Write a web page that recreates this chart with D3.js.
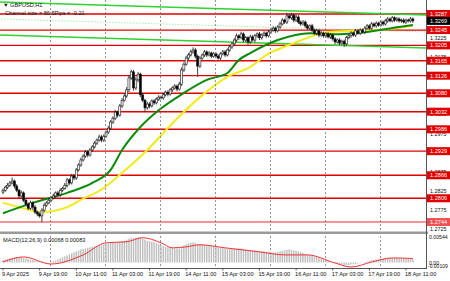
<!DOCTYPE html>
<html>
<head>
<meta charset="utf-8">
<script src="https://cdn.jsdelivr.net/npm/d3@7"></script>
<style>
  body { margin: 0; background: #fff; }
  svg { display: block; }
  text { font-family: "Liberation Sans", Arial, sans-serif; }
</style>
</head>
<body>
<svg width="450" height="281"></svg>
<script>
// H1 closes, 9 Apr 03:00 -> 18 Apr 14:00
var firstOpen = 1.2822;
var closes = [
  1.2827,1.2835,1.2840,1.2846,1.2851,1.2838,1.2827,1.2812,1.2820,1.2801,
  1.2791,1.2780,1.2794,1.2783,1.2770,1.2765,1.2760,1.2775,1.2788,1.2794,
  1.2801,1.2807,1.2812,1.2820,1.2815,1.2827,1.2832,1.2840,1.2854,1.2846,
  1.2864,1.2859,1.2880,1.2893,1.2906,1.2916,1.2927,1.2919,1.2932,1.2940,
  1.2950,1.2958,1.2966,1.2958,1.2968,1.2979,1.2989,1.3005,1.3015,1.3031,
  1.3023,1.3047,1.3062,1.3073,1.3089,1.3120,1.3136,1.3094,1.3115,1.3130,
  1.3076,1.3062,1.3042,1.3052,1.3047,1.3060,1.3055,1.3065,1.3070,1.3068,
  1.3076,1.3083,1.3078,1.3089,1.3094,1.3099,1.3091,1.3104,1.3141,1.3156,
  1.3172,1.3180,1.3188,1.3193,1.3177,1.3151,1.3172,1.3180,1.3188,1.3180,
  1.3185,1.3177,1.3183,1.3177,1.3172,1.3183,1.3188,1.3180,1.3193,1.3201,
  1.3209,1.3219,1.3230,1.3225,1.3235,1.3219,1.3225,1.3214,1.3227,1.3219,
  1.3230,1.3235,1.3225,1.3232,1.3237,1.3230,1.3240,1.3245,1.3250,1.3243,
  1.3253,1.3261,1.3271,1.3266,1.3282,1.3277,1.3284,1.3271,1.3279,1.3266,
  1.3261,1.3266,1.3256,1.3250,1.3256,1.3245,1.3237,1.3243,1.3232,1.3237,
  1.3230,1.3235,1.3227,1.3232,1.3222,1.3214,1.3219,1.3211,1.3216,1.3209,
  1.3225,1.3230,1.3237,1.3232,1.3243,1.3237,1.3245,1.3240,1.3250,1.3256,
  1.3250,1.3261,1.3256,1.3263,1.3258,1.3266,1.3261,1.3269,1.3274,1.3269,
  1.3277,1.3271,1.3274,1.3269,1.3271,1.3266,1.3271,1.3269,1.3274,1.3269
];
// wick lengths in pips above / below the body
var wickUp = [
  5,4,6,5,9,4,5,4,6,4, 5,4,6,4,5,4,4,5,6,4, 5,4,6,4,5,5,4,6,5,4,
  6,5,5,4,6,5,5,4,6,5, 5,4,6,5,5,4,6,5,5,6, 4,5,6,5,7,8,6,5,7,6,
  4,5,4,6,5,4,5,4,5,4, 5,4,5,5,4,5,4,6,7,5, 6,5,6,7,5,4,5,4,5,4,
  5,4,5,4,5,4,5,5,4,6, 5,5,6,4,6,4,5,4,6,5, 5,4,5,4,5,4,5,6,5,4,
  5,6,5,4,8,5,6,4,6,5, 4,5,4,5,4,5,4,5,4,5, 4,5,4,5,4,5,4,5,4,4,
  5,4,5,4,5,4,5,4,5,5, 4,5,4,5,4,5,4,5,5,4, 5,4,5,4,4,5,4,4,5,4
];
var wickDn = [
  5,4,5,4,4,6,5,6,4,5, 6,5,4,7,5,6,5,16,5,4, 4,5,4,5,4,5,4,4,6,5,
  4,6,5,4,5,4,5,6,4,5, 4,5,4,6,5,4,5,4,5,5, 6,4,5,4,5,6,5,7,5,6,
  6,5,10,5,6,4,5,4,5,4, 5,4,6,4,5,4,6,4,5,5, 4,5,4,5,6,28,5,4,5,5,
  4,5,4,5,4,5,4,5,4,5, 5,4,5,6,4,6,5,7,5,4, 6,5,6,5,4,5,4,5,4,5,
  4,5,4,5,5,4,5,6,5,5, 5,4,5,4,5,5,4,5,6,4, 5,5,4,5,5,6,4,5,4,8,
  5,4,5,4,5,4,5,4,5,4, 4,5,4,5,4,4,5,4,5,4, 4,5,4,4,5,4,5,4,4,5
];

var levels = [1.3287, 1.3245, 1.3205, 1.3165, 1.3126, 1.3080, 1.3032, 1.2986, 1.2929, 1.2866, 1.2806, 1.2744];
var lastPrice = 1.3269;
// grid prices whose labels are not hidden by a level tag
var priceTicks = [1.3225, 1.3175, 1.3025, 1.2975, 1.2875, 1.2825, 1.2775, 1.2725];

var timeBars = [0, 16, 32, 48, 64, 80, 96, 112, 128, 144, 160, 176];
var timeLabels = ["9 Apr 2025", "9 Apr 19:00", "10 Apr 11:00", "11 Apr 03:00", "11 Apr 19:00", "14 Apr 11:00",
                  "15 Apr 03:00", "15 Apr 19:00", "16 Apr 11:00", "17 Apr 03:00", "17 Apr 19:00", "18 Apr 11:00"];
var dayStarts = [21, 45, 69, 93, 117, 141, 165];

// moving averages: [bar, price]
var greenMA = [[0,1.2767],[13,1.2794],[28,1.2820],[39,1.2846],[47,1.2880],[52,1.2932],[60,1.2992],[67,1.3031],
  [79,1.3081],[89,1.3115],[98,1.3133],[103,1.3167],[108,1.3185],[120,1.3219],[134,1.3237],[144,1.3234],
  [159,1.3240],[173,1.3253],[179,1.3258]];
var yellowMA = [[0,1.2794],[7,1.2783],[17,1.2770],[28,1.2783],[35,1.2805],[42,1.2825],[50,1.2862],[63,1.2932],
  [74,1.3002],[86,1.3070],[98,1.3123],[108,1.3149],[115,1.3180],[125,1.3206],[134,1.3227],[142,1.3240],
  [153,1.3243],[164,1.3245],[179,1.3256]];

// price channel
var chanUpper = [[-2,1.33185],[186,1.32841]];
var chanLower = [[-2,1.32323],[186,1.31980]];
var chanMid = [[-2,1.32741],[186,1.32398]];

// MACD(12,26,9)
var macdHist = [
  0.0005,0.0006,0.0007,0.0008,0.0009,0.0010,0.0011,0.0011,0.0010,0.0009,
  0.0008,0.0007,0.0006,0.0005,0.0004,0.0003,0.0002,0.0001,0.0000,-0.0001,
  0.0000,0.0001,0.0003,0.0004,0.0006,0.0008,0.0010,0.0012,0.0014,0.0016,
  0.0018,0.0020,0.0022,0.0024,0.0026,0.0027,0.0028,0.0029,0.0030,0.0031,
  0.0032,0.0033,0.0034,0.0035,0.0036,0.0037,0.0038,0.0039,0.0039,0.0040,
  0.0040,0.0041,0.0042,0.0043,0.0045,0.0047,0.0049,0.0048,0.0049,0.0050,
  0.0049,0.0047,0.0045,0.0043,0.0042,0.0041,0.0040,0.0038,0.0036,0.0034,
  0.0032,0.0031,0.0030,0.0029,0.0029,0.0028,0.0028,0.0028,0.0031,0.0034,
  0.0036,0.0038,0.0039,0.0040,0.0039,0.0037,0.0036,0.0036,0.0035,0.0035,
  0.0034,0.0033,0.0032,0.0031,0.0030,0.0029,0.0029,0.0028,0.0027,0.0027,
  0.0027,0.0027,0.0028,0.0028,0.0028,0.0027,0.0026,0.0025,0.0025,0.0024,
  0.0024,0.0023,0.0023,0.0022,0.0022,0.0021,0.0021,0.0020,0.0020,0.0020,
  0.0021,0.0022,0.0023,0.0024,0.0025,0.0026,0.0025,0.0024,0.0023,0.0022,
  0.0021,0.0019,0.0017,0.0016,0.0014,0.0013,0.0012,0.0011,0.0009,0.0008,
  0.0006,0.0005,0.0003,0.0002,0.0000,-0.0001,-0.0002,-0.0003,-0.0004,-0.0005,
  -0.0005,-0.0005,-0.0004,-0.0004,-0.0003,-0.0002,-0.0001,0.0000,0.0001,0.0002,
  0.0003,0.0004,0.0005,0.0006,0.0006,0.0007,0.0007,0.0008,0.0008,0.0009,
  0.0009,0.0009,0.0009,0.0008,0.0008,0.0008,0.0007,0.0007,0.0007,0.0007
];
var macdSignal = [[0,0.0001],[9,0.0011],[21,-0.0003],[35,0.0015],[45,0.0039],[54,0.0041],[61,0.0049],[69,0.0039],
  [74,0.0029],[80,0.0031],[86,0.0035],[97,0.0029],[112,0.0021],[123,0.0015],[133,0.0015],[145,-0.0001],
  [152,-0.0009],[161,0.0001],[170,0.0009],[179,0.0008]];
var macdTop = 0.00544, macdBottom = -0.00109;

var svg = d3.select("svg"),
    plotW = 426,
    mainH = 231,
    macdTopY = 235, macdBotY = 268;

var x = d3.scaleLinear().domain([0, 176]).range([3, 406]);
var y = d3.scaleLinear().domain([1.27206, 1.33235]).range([mainH, 0]);
var ym = d3.scaleLinear().domain([macdBottom, macdTop]).range([macdBotY, macdTopY]);

svg.append("defs").append("clipPath").attr("id", "clipMain")
  .append("rect").attr("width", plotW).attr("height", mainH);
svg.append("defs").append("clipPath").attr("id", "clipMacd")
  .append("rect").attr("y", macdTopY).attr("width", plotW).attr("height", macdBotY - macdTopY);

var main = svg.append("g").attr("clip-path", "url(#clipMain)");

// day separators
svg.append("g").selectAll("line")
  .data(dayStarts)
  .enter().append("line")
    .attr("x1", function(d) { return Math.round(x(d - 0.5)) + 0.5; })
    .attr("x2", function(d) { return Math.round(x(d - 0.5)) + 0.5; })
    .attr("y1", 0).attr("y2", macdBotY)
    .attr("stroke", "#777").attr("stroke-width", 0.8)
    .attr("stroke-dasharray", "2,2");

// support / resistance levels
main.selectAll(".lvl")
  .data(levels)
  .enter().append("line")
    .attr("class", "lvl")
    .attr("x1", 0).attr("x2", plotW)
    .attr("y1", function(d) { return y(d); })
    .attr("y2", function(d) { return y(d); })
    .attr("stroke", function(d) { return d === 1.2744 ? "#f07070" : "#e00000"; })
    .attr("stroke-width", 1.4);

// channel
var line = d3.line().x(function(d) { return x(d[0]); }).y(function(d) { return y(d[1]); });
main.append("path").attr("d", line(chanUpper)).attr("fill", "none").attr("stroke", "#2fd22f").attr("stroke-width", 1.5);
main.append("path").attr("d", line(chanLower)).attr("fill", "none").attr("stroke", "#2fd22f").attr("stroke-width", 1.5);
main.append("path").attr("d", line(chanMid)).attr("fill", "none").attr("stroke", "#7ee07e").attr("stroke-width", 1)
  .attr("stroke-dasharray", "1,2");

// moving averages
var curve = d3.line().curve(d3.curveMonotoneX).x(function(d) { return x(d[0]); }).y(function(d) { return y(d[1]); });
main.append("path").attr("d", curve(yellowMA)).attr("fill", "none").attr("stroke", "#f2ea1a").attr("stroke-width", 2);
main.append("path").attr("d", curve(greenMA)).attr("fill", "none").attr("stroke", "#0a8a0a").attr("stroke-width", 2);

// candles
var bars = closes.map(function(c, i) {
  var o = i ? closes[i - 1] : firstOpen;
  return { i: i, o: o, c: c,
           h: Math.max(o, c) + wickUp[i] * 0.0001,
           l: Math.min(o, c) - wickDn[i] * 0.0001 };
});
var candle = main.append("g").selectAll("g")
  .data(bars)
  .enter().append("g");
candle.append("line")
  .attr("x1", function(d) { return x(d.i); })
  .attr("x2", function(d) { return x(d.i); })
  .attr("y1", function(d) { return y(d.h); })
  .attr("y2", function(d) { return y(d.l); })
  .attr("stroke", "#111").attr("stroke-width", 0.8);
candle.append("rect")
  .attr("x", function(d) { return x(d.i) - 1; })
  .attr("width", 2)
  .attr("y", function(d) { return y(Math.max(d.o, d.c)); })
  .attr("height", function(d) { return Math.max(0.6, Math.abs(y(d.o) - y(d.c))); })
  .attr("fill", function(d) { return d.c >= d.o ? "#fff" : "#000"; })
  .attr("stroke", "#111").attr("stroke-width", 0.6);

// separator between panes
svg.append("rect").attr("x", 0).attr("y", 231.5).attr("width", 428).attr("height", 2.5).attr("fill", "#9a9a9a");

// MACD
var macd = svg.append("g").attr("clip-path", "url(#clipMacd)");
macd.selectAll("rect")
  .data(macdHist)
  .enter().append("rect")
    .attr("x", function(d, i) { return x(i) - 0.7; })
    .attr("width", 1.4)
    .attr("y", function(d) { return ym(Math.max(0, d)); })
    .attr("height", function(d) { return Math.abs(ym(d) - ym(0)); })
    .attr("fill", "#bdbdbd");
var sig = d3.line().curve(d3.curveMonotoneX).x(function(d) { return x(d[0]); }).y(function(d) { return ym(d[1]); });
macd.append("path").attr("d", sig(macdSignal)).attr("fill", "none").attr("stroke", "#e33").attr("stroke-width", 1);

svg.append("text").attr("x", 3).attr("y", 242).attr("font-size", 5.6).attr("fill", "#111")
  .text("MACD(12,26,9) 0.00068 0.00083");

// frame lines
svg.append("line").attr("x1", plotW + 0.5).attr("x2", plotW + 0.5).attr("y1", 0).attr("y2", macdBotY)
  .attr("stroke", "#555").attr("stroke-width", 1);
svg.append("line").attr("x1", 0).attr("x2", plotW + 1).attr("y1", macdBotY + 0.5).attr("y2", macdBotY + 0.5)
  .attr("stroke", "#555").attr("stroke-width", 1);

// price axis ticks
var axisG = svg.append("g");
axisG.selectAll(".tick")
  .data(priceTicks)
  .enter().append("text")
    .attr("x", 430).attr("y", function(d) { return y(d) + 2; })
    .attr("font-size", 5.4).attr("fill", "#111")
    .text(function(d) { return d.toFixed(4); });

// level labels
var lab = axisG.selectAll(".lab")
  .data(levels.map(function(v) { return { v: v, bg: v === 1.2744 ? "#f05050" : "#e00000" }; })
    .concat([{ v: lastPrice, bg: "#000" }]))
  .enter().append("g")
    .attr("transform", function(d) { return "translate(427," + y(d.v) + ")"; });
lab.append("rect").attr("x", 0).attr("y", -4).attr("width", 23).attr("height", 8)
  .attr("fill", function(d) { return d.bg; });
lab.append("text").attr("x", 3).attr("y", 2).attr("font-size", 5.6).attr("fill", "#fff")
  .text(function(d) { return d.v.toFixed(4); });

// macd axis
axisG.append("text").attr("x", 429).attr("y", 239).attr("font-size", 5.2).attr("fill", "#111").text("0.00544");
axisG.append("text").attr("x", 429).attr("y", 264.5).attr("font-size", 5.2).attr("fill", "#111").text("0.00");
axisG.append("text").attr("x", 428).attr("y", 267.5).attr("font-size", 5).attr("fill", "#111").text("-0.00109");

// time axis
var tg = svg.append("g");
tg.selectAll("line")
  .data(timeBars)
  .enter().append("line")
    .attr("x1", function(d) { return x(d); }).attr("x2", function(d) { return x(d); })
    .attr("y1", macdBotY).attr("y2", macdBotY + 2.5)
    .attr("stroke", "#555");
tg.selectAll("text")
  .data(timeBars)
  .enter().append("text")
    .attr("x", function(d) { return x(d) - 1; })
    .attr("y", 276)
    .attr("font-size", 5.6).attr("fill", "#111")
    .text(function(d, i) { return timeLabels[i]; });

// title
svg.append("text").attr("x", 3).attr("y", 7).attr("font-size", 5.6).attr("fill", "#111")
  .text("\u25BC GBPUSD,H1");
svg.append("text").attr("x", 5).attr("y", 15).attr("font-size", 5.6).attr("fill", "#111")
  .text("Channel size = 86.5Pips = -0.21");
</script>
</body>
</html>
